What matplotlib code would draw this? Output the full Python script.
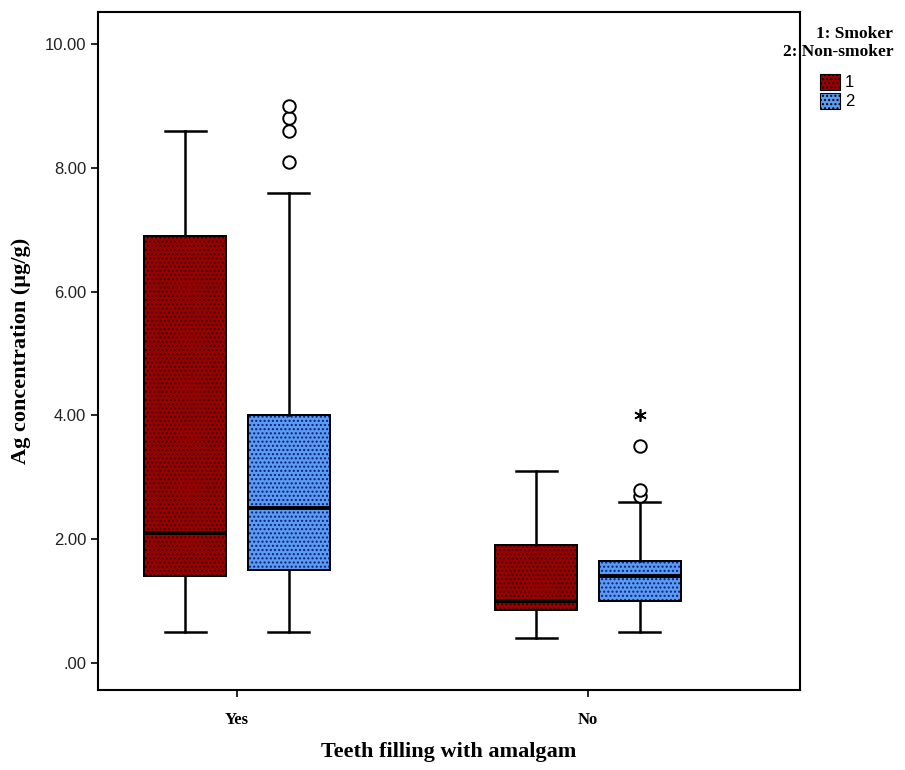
import matplotlib
matplotlib.use("Agg")
import matplotlib.pyplot as plt
from matplotlib.patches import PathPatch, Patch

# ---- data ----
groups = ["Yes", "No"]
series_names = ["1", "2"]

smoker_q1 = [1.4, 0.86]
smoker_med = [2.1, 1.0]
smoker_q3 = [6.9, 1.9]
smoker_lo = [0.5, 0.4]
smoker_hi = [8.6, 3.1]
smoker_out = [[], []]
smoker_ext = [[], []]

non_q1 = [1.5, 1.0]
non_med = [2.5, 1.4]
non_q3 = [4.0, 1.65]
non_lo = [0.5, 0.5]
non_hi = [7.6, 2.6]
non_out = [[8.1, 8.6, 8.8, 9.0], [2.7, 2.8, 3.5]]
non_ext = [[], [4.0]]

y_ticks = [0, 2, 4, 6, 8, 10]
y_ticklabels = [".00", "2.00", "4.00", "6.00", "8.00", "10.00"]

colors = ["#9b0000", "#5b9cf0"]
hatch_colors = ["#3a0000", "#0a1f80"]

serif = ["Liberation Serif", "DejaVu Serif"]
sans = ["Liberation Sans", "DejaVu Sans"]

fig = plt.figure(figsize=(9.05, 7.70), dpi=100)
ax = fig.add_axes([98 / 905, 1 - 690 / 770, 702 / 905, 678 / 770])

offset = 0.147
width = 0.234

series = [
    (smoker_q1, smoker_med, smoker_q3, smoker_lo, smoker_hi, smoker_out, smoker_ext),
    (non_q1, non_med, non_q3, non_lo, non_hi, non_out, non_ext),
]

for s, (q1, med, q3, lo, hi, outs, exts) in enumerate(series):
    stats = []
    pos = []
    for g in range(len(groups)):
        stats.append(dict(q1=q1[g], med=med[g], q3=q3[g], whislo=lo[g], whishi=hi[g], fliers=[]))
        pos.append(g + (-offset if s == 0 else offset))
    bp = ax.bxp(stats, positions=pos, widths=width, patch_artist=True,
                showfliers=False, capwidths=width / 2,
                boxprops=dict(facecolor=colors[s], edgecolor="black", linewidth=1.3),
                medianprops=dict(color="black", linewidth=2.8),
                whiskerprops=dict(color="black", linewidth=1.8),
                capprops=dict(color="black", linewidth=1.8))
    for box in bp["boxes"]:
        box.set_zorder(2)
        hp = PathPatch(box.get_path(), facecolor="none", edgecolor=hatch_colors[s],
                       hatch="....", linewidth=0, zorder=2.1)
        ax.add_patch(hp)
        ol = PathPatch(box.get_path(), facecolor="none", edgecolor="black",
                       linewidth=1.3, zorder=2.2)
        ax.add_patch(ol)
    for m in bp["medians"]:
        m.set_zorder(3)
    for g in range(len(groups)):
        if outs[g]:
            ax.plot([pos[g]] * len(outs[g]), outs[g], linestyle="none", marker="o",
                    markersize=9, markerfacecolor="white", markeredgecolor="black",
                    markeredgewidth=1.4, zorder=4)
        if exts[g]:
            ax.plot([pos[g]] * len(exts[g]), exts[g], linestyle="none", marker=(6, 2, 0),
                    markersize=9, color="black", markeredgewidth=1.2, zorder=4)

ax.set_xlim(-0.396, 1.604)
ax.set_ylim(-0.44, 10.52)
ax.set_xticks(range(len(groups)))
ax.set_xticklabels(groups, fontfamily=serif, fontweight="bold", fontsize=12)
ax.set_yticks(y_ticks)
ax.set_yticklabels(y_ticklabels, fontfamily=sans, fontsize=12, color="#222222")
ax.tick_params(axis="both", direction="out", length=5, width=1.2)
ax.tick_params(axis="x", pad=11)
for sp in ax.spines.values():
    sp.set_linewidth(1.5)

ax.set_ylabel("Ag concentration (\u00b5g/g)", fontfamily=serif, fontweight="bold",
              fontsize=16, labelpad=10)
ax.set_xlabel("Teeth filling with amalgam", fontfamily=serif, fontweight="bold",
              fontsize=16, labelpad=10)

# legend title, right aligned
fig.text(893 / 905, 1 - 26 / 770, "1: Smoker\n2: Non-smoker", ha="right", va="top",
         fontfamily=serif, fontweight="bold", fontsize=12.5, linespacing=1.15,
         multialignment="right")

handles = [Patch(facecolor=colors[i], edgecolor="black", hatch="....", linewidth=0.8)
           for i in range(2)]
fig.legend(handles, series_names, loc="upper left",
           bbox_to_anchor=(808 / 905, 1 - 62 / 770), frameon=False,
           prop=dict(family=sans, size=12),
           handlelength=1.2, handleheight=1.1, handletextpad=0.3,
           labelspacing=0.15, borderpad=0.2)

fig.savefig("out.png", dpi=100)
